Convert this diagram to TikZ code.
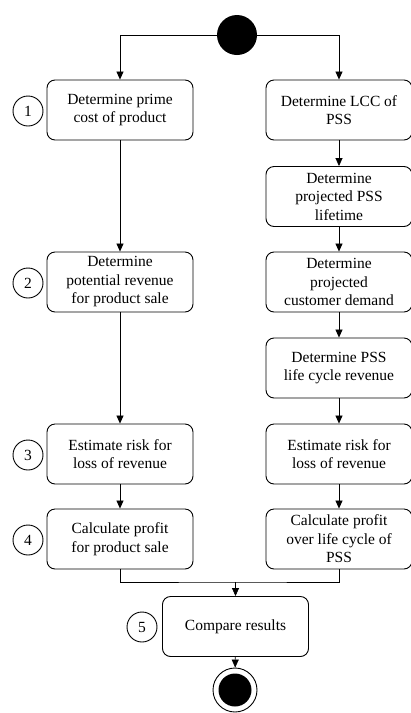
\documentclass[tikz,border=0pt]{standalone}
\usepackage{fontspec}
\setmainfont{Liberation Serif}
\usetikzlibrary{arrows.meta}

\begin{document}
\begin{tikzpicture}[x=1pt,y=-1pt,
	act/.style={draw,rounded corners=8pt,line width=0.9pt,minimum width=146pt,minimum height=60pt,align=center,font=\fontsize{15.5}{18.5}\selectfont},
	num/.style={draw,circle,line width=0.9pt,minimum size=30pt,inner sep=0pt,font=\fontsize{15.5}{18.5}\selectfont},
	flow/.style={-{Triangle[length=8pt,width=7pt]},line width=0.7pt}]
			\useasboundingbox (0,0) rectangle (411,713);
			% start
			\node[circle,fill=black,minimum size=40pt,inner sep=0pt] (start) at (237,35) {};
			% left branch
			\node[act] (l1) at (120,110) {Determine prime\\cost of product};
			\node[act] (l2) at (120,282) {Determine\\potential revenue\\for product sale};
			\node[act] (l3) at (120,454) {Estimate risk for\\loss of revenue};
			\node[act] (l4) at (120,539) {Calculate profit\\for product sale};
			% right branch
			\node[act] (r1) at (339,110) {Determine LCC of\\PSS};
			\node[act] (r2) at (339,196.5) {Determine\\projected PSS\\lifetime};
			\node[act] (r3) at (339,282) {Determine\\projected\\customer demand};
			\node[act] (r4) at (339,368) {Determine PSS\\life cycle revenue};
			\node[act] (r5) at (339,454) {Estimate risk for\\loss of revenue};
			\node[act] (r6) at (339,539) {Calculate profit\\over life cycle of\\PSS};
			% end
			\node[act] (cmp) at (235.5,626.5) {Compare results};
			\node[circle,draw,line width=0.9pt,minimum size=44pt,inner sep=0pt] (endo) at (235,690) {};
			\node[circle,fill=black,minimum size=33pt,inner sep=0pt] (endi) at (endo) {};
			% numbers
			\node[num] (n1) at (28,111) {1};
			\node[num] (n2) at (28,283) {2};
			\node[num] (n3) at (28,455) {3};
			\node[num] (n4) at (28,540) {4};
			\node[num] (n5) at (142,627) {5};
			% flows
			\coordinate (merge) at (235.5,582);
			\draw[flow] (start.west) -| (l1);
			\draw[flow] (start.east) -| (r1);
			\draw[flow] (l1) -- (l2);
			\draw[flow] (l2) -- (l3);
			\draw[flow] (l3) -- (l4);
			\draw[flow] (r1) -- (r2);
			\draw[flow] (r2) -- (r3);
			\draw[flow] (r3) -- (r4);
			\draw[flow] (r4) -- (r5);
			\draw[flow] (r5) -- (r6);
			\draw[line width=0.7pt] (l4.south) |- (merge) -| (r6.south);
			\draw[flow] (merge) -- (cmp);
			\draw[flow] (cmp) -- (endo);
\end{tikzpicture}
\end{document}
